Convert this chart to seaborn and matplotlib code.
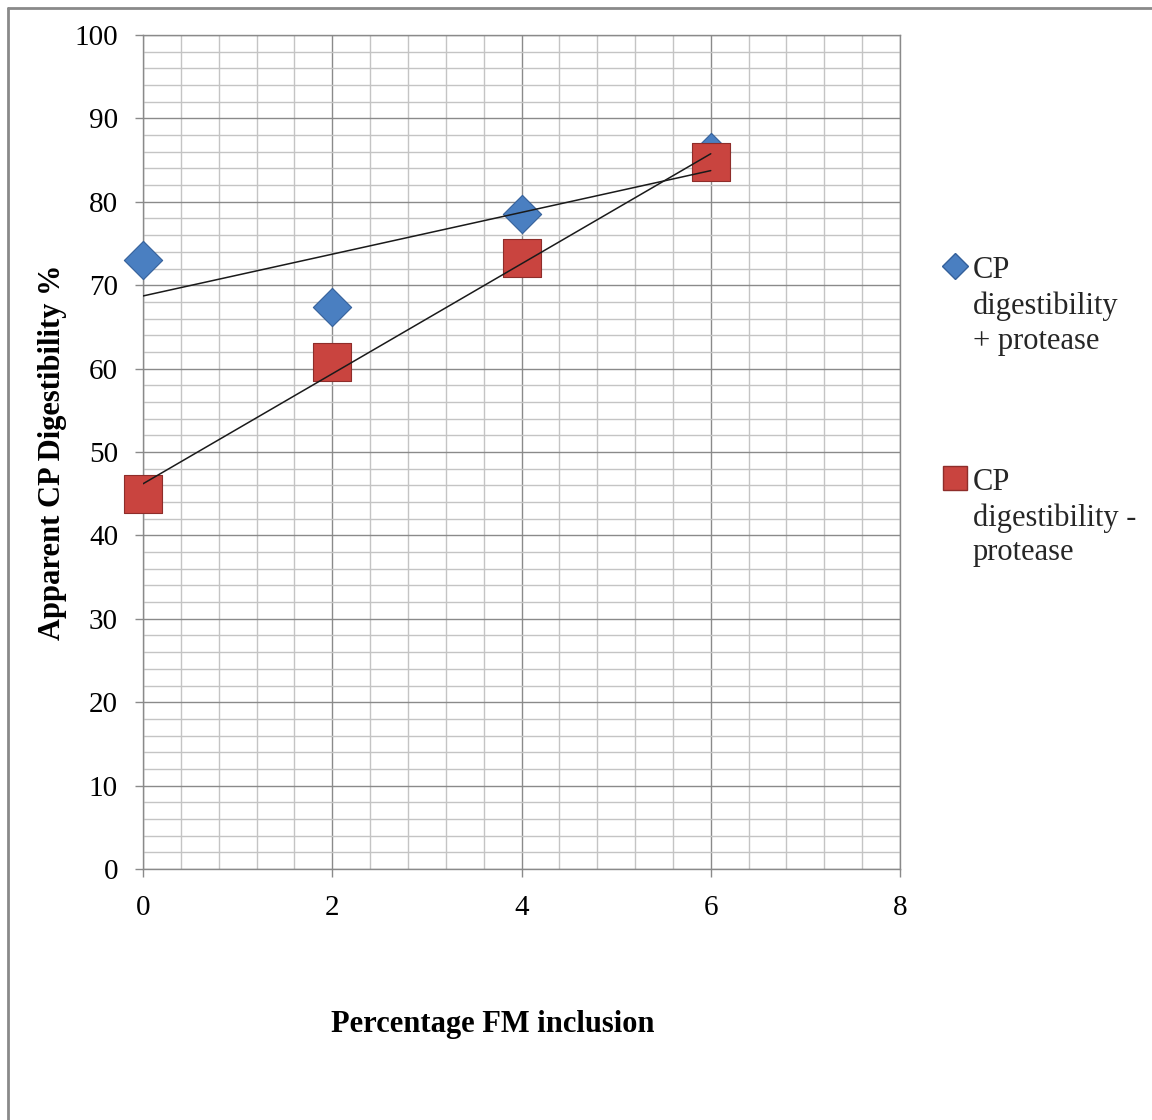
import numpy as np
import pandas as pd
import matplotlib
matplotlib.use("Agg")
import matplotlib.pyplot as plt
import seaborn as sns
from matplotlib.lines import Line2D
from matplotlib.legend_handler import HandlerLine2D
from matplotlib.ticker import MultipleLocator

# ---- data ----
fm_inclusion = [0, 2, 4, 6]
cp_plus_protease = [73.0, 67.4, 78.5, 86.0]
cp_minus_protease = [45.0, 60.8, 73.3, 84.8]
series_labels = ["CP\ndigestibility\n+ protease", "CP\ndigestibility -\nprotease"]
x_label = "Percentage FM inclusion"
y_label = "Apparent CP Digestibility %"

df_plus = pd.DataFrame({"x": fm_inclusion, "y": cp_plus_protease})
df_minus = pd.DataFrame({"x": fm_inclusion, "y": cp_minus_protease})

sns.set_theme(style="white")
plt.rcParams["font.family"] = ["Liberation Serif", "DejaVu Serif"]

fig = plt.figure(figsize=(11.52, 11.2), dpi=100)
ax = fig.add_axes([143 / 1152, 1 - 869 / 1120, (900 - 143) / 1152, (869 - 35) / 1120])

blue_face, blue_edge = "#4a7fc1", "#34609a"
red_face, red_edge = "#c9443f", "#8e2d2a"

sns.scatterplot(data=df_plus, x="x", y="y", marker="D", s=19.5 ** 2,
                color=blue_face, edgecolor=blue_edge, linewidth=0.8, ax=ax, zorder=3,
                clip_on=False)
sns.scatterplot(data=df_minus, x="x", y="y", marker="s", s=28 ** 2,
                color=red_face, edgecolor=red_edge, linewidth=0.8, ax=ax, zorder=4,
                clip_on=False)

sns.regplot(data=df_plus, x="x", y="y", scatter=False, ci=None, truncate=True,
            line_kws=dict(color="#1a1a1a", lw=1.1, zorder=5), ax=ax)
sns.regplot(data=df_minus, x="x", y="y", scatter=False, ci=None, truncate=True,
            line_kws=dict(color="#1a1a1a", lw=1.1, zorder=5), ax=ax)

ax.set_xlim(0, 8)
ax.set_ylim(0, 100)
ax.xaxis.set_major_locator(MultipleLocator(2))
ax.xaxis.set_minor_locator(MultipleLocator(0.4))
ax.yaxis.set_major_locator(MultipleLocator(10))
ax.yaxis.set_minor_locator(MultipleLocator(2))
ax.grid(True, which="major", color="#8a8a8a", lw=1.0)
ax.grid(True, which="minor", color="#c4c4c4", lw=1.0)
ax.set_axisbelow(True)
for sp in ax.spines.values():
    sp.set_color("#8a8a8a")
    sp.set_linewidth(1.0)

ax.tick_params(axis="both", which="major", direction="out", length=6, width=1.0,
               color="#8a8a8a", labelsize=21, labelcolor="black")
ax.tick_params(axis="y", which="major", pad=12)
ax.tick_params(axis="x", which="major", pad=13)
ax.tick_params(which="minor", length=0)
ax.tick_params(left=True, bottom=True)

ax.set_xlabel(x_label, fontsize=22, fontweight="bold", color="black")
ax.set_ylabel(y_label, fontsize=22, fontweight="bold", color="black", labelpad=5)
ax.xaxis.set_label_coords((493 - 143) / 757, -0.169)

LEG_FS = 22
LINE_SP = 1.27


class HandlerUp(HandlerLine2D):
    def create_artists(self, legend, orig_handle, xdescent, ydescent, width, height, fontsize, trans):
        arts = super().create_artists(legend, orig_handle, xdescent, ydescent, width, height, fontsize, trans)
        for a in arts:
            yd = np.asarray(a.get_ydata(), dtype=float)
            a.set_ydata(yd + fontsize * 1.2 * LINE_SP / 1.15 * 1.0)
        return arts


h1 = Line2D([], [], linestyle="none", marker="D", markersize=13,
            markerfacecolor=blue_face, markeredgecolor=blue_edge)
h2 = Line2D([], [], linestyle="none", marker="s", markersize=17,
            markerfacecolor=red_face, markeredgecolor=red_edge)
leg = ax.legend([h1, h2], series_labels, loc="upper left",
                bbox_to_anchor=(946 / 1152, 1 - 256 / 1120), bbox_transform=fig.transFigure,
                frameon=False, fontsize=LEG_FS, handlelength=0.62, handletextpad=0.25,
                labelspacing=3.68, borderpad=0, borderaxespad=0,
                handler_map={Line2D: HandlerUp()})
for t in leg.get_texts():
    t.set_linespacing(LINE_SP)

# outer border (top and left)
fig.add_artist(Line2D([7.5 / 1152, 7.5 / 1152], [0, 1 - 7.5 / 1120], transform=fig.transFigure,
                      color="#8a8a8a", lw=2))
fig.add_artist(Line2D([7.5 / 1152, 1], [1 - 7.5 / 1120, 1 - 7.5 / 1120], transform=fig.transFigure,
                      color="#8a8a8a", lw=2))

fig.savefig("out.png", dpi=100, facecolor="white")
